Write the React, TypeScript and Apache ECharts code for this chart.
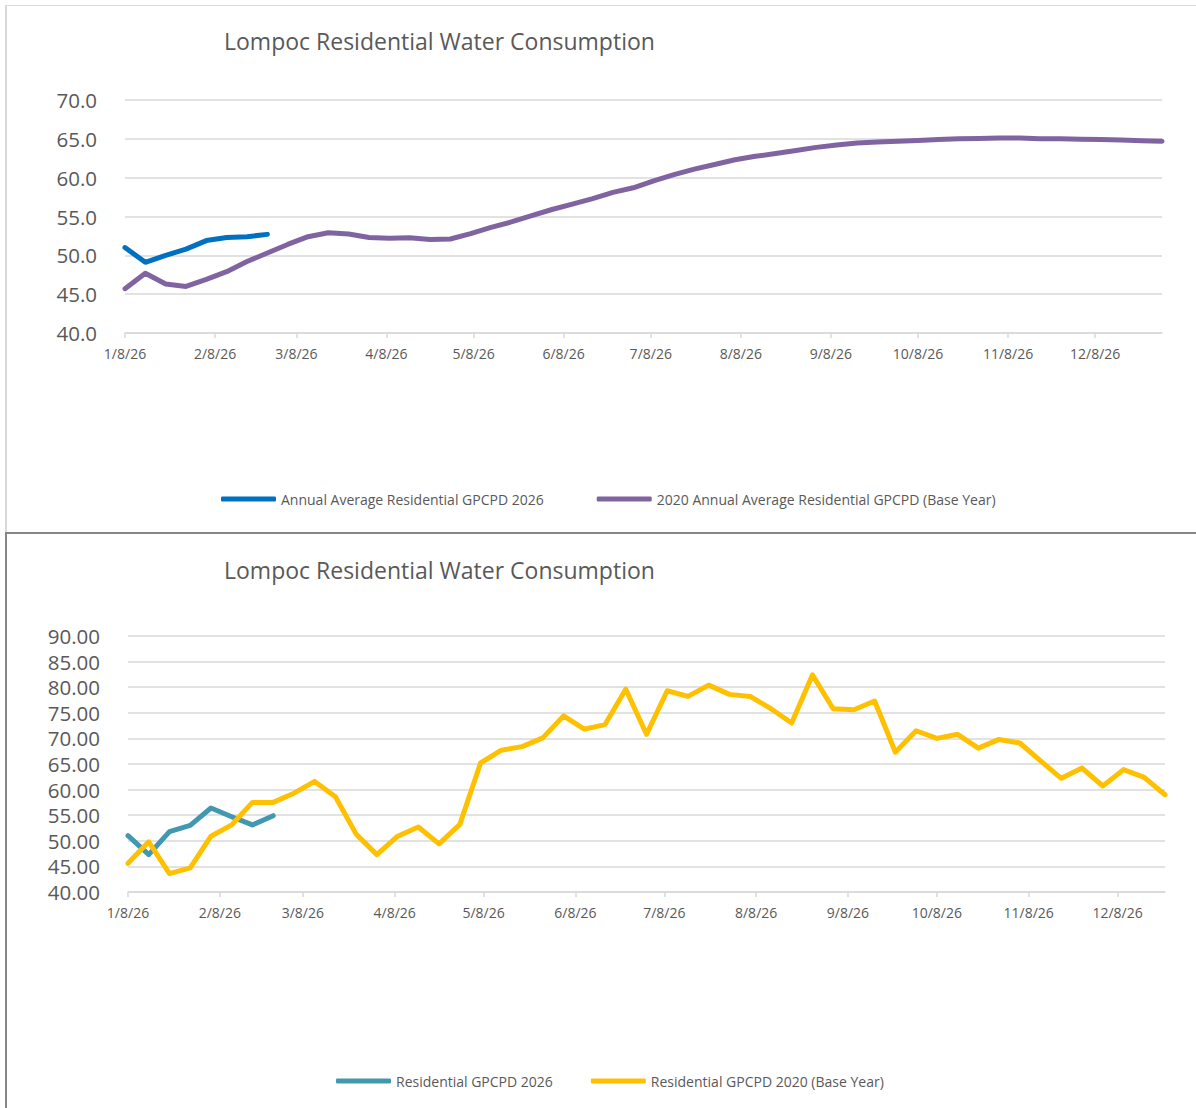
import React, { useEffect, useRef } from "react";
import * as echarts from "echarts";

// ---- Data ----
const weekDates: string[] = [
  "2026-01-08", "2026-01-15", "2026-01-22", "2026-01-29",
  "2026-02-05", "2026-02-12", "2026-02-19", "2026-02-26",
  "2026-03-05", "2026-03-12", "2026-03-19", "2026-03-26",
  "2026-04-02", "2026-04-09", "2026-04-16", "2026-04-23", "2026-04-30",
  "2026-05-07", "2026-05-14", "2026-05-21", "2026-05-28",
  "2026-06-04", "2026-06-11", "2026-06-18", "2026-06-25",
  "2026-07-02", "2026-07-09", "2026-07-16", "2026-07-23", "2026-07-30",
  "2026-08-06", "2026-08-13", "2026-08-20", "2026-08-27",
  "2026-09-03", "2026-09-10", "2026-09-17", "2026-09-24",
  "2026-10-01", "2026-10-08", "2026-10-15", "2026-10-22", "2026-10-29",
  "2026-11-05", "2026-11-12", "2026-11-19", "2026-11-26",
  "2026-12-03", "2026-12-10", "2026-12-17", "2026-12-24", "2026-12-31",
];

const tickDates: string[] = [
  "2026-01-08", "2026-02-08", "2026-03-08", "2026-04-08", "2026-05-08", "2026-06-08",
  "2026-07-08", "2026-08-08", "2026-09-08", "2026-10-08", "2026-11-08", "2026-12-08",
];

const chartTitle = "Lompoc Residential Water Consumption";

// Top chart (annual averages)
const avg2026Name = "Annual Average Residential GPCPD 2026";
const avg2026: number[] = [51.0, 49.1, 50.0, 50.8, 51.9, 52.3, 52.4, 52.7];

const avg2020Name = "2020 Annual Average Residential GPCPD (Base Year)";
const avg2020: number[] = [
  45.7, 47.7, 46.3, 46.0, 46.9, 47.9, 49.2, 50.3, 51.4, 52.4, 52.9, 52.75,
  52.3, 52.2, 52.25, 52.05, 52.1, 52.8, 53.6, 54.3, 55.1, 55.9, 56.6, 57.3,
  58.1, 58.7, 59.6, 60.4, 61.1, 61.7, 62.3, 62.75, 63.1, 63.5, 63.9, 64.2,
  64.45, 64.6, 64.7, 64.8, 64.9, 65.0, 65.05, 65.1, 65.1, 65.0, 65.0, 64.95,
  64.9, 64.85, 64.75, 64.7,
];
const topYTicks = { min: 40, max: 70, interval: 5 };

// Bottom chart (weekly)
const res2026Name = "Residential GPCPD 2026";
const res2026: number[] = [51.0, 47.3, 51.8, 53.0, 56.4, 54.7, 53.1, 54.9];

const res2020Name = "Residential GPCPD 2020 (Base Year)";
const res2020: number[] = [
  45.6, 49.8, 43.6, 44.7, 50.9, 53.1, 57.5, 57.5, 59.3, 61.6, 58.6, 51.3,
  47.3, 50.9, 52.7, 49.4, 53.2, 65.2, 67.7, 68.4, 70.1, 74.4, 71.8, 72.7,
  79.6, 70.8, 79.3, 78.2, 80.4, 78.6, 78.2, 75.8, 73.0, 82.4, 75.8, 75.6,
  77.3, 67.3, 71.5, 70.0, 70.8, 68.1, 69.8, 69.1, 65.6, 62.2, 64.2, 60.7,
  63.9, 62.4, 59.0,
];
const botYTicks = { min: 40, max: 90, interval: 5 };

// ---- Helpers ----
const FONT = "'Open Sans', sans-serif";
const LABEL = "#595959";
const GRID = "#d9d9d9";

function ts(s: string): number {
  const [y, m, d] = s.split("-").map(Number);
  return new Date(y, m - 1, d).getTime();
}
function fmtDate(v: number): string {
  const d = new Date(v);
  return `${d.getMonth() + 1}/${d.getDate()}/${String(d.getFullYear()).slice(2)}`;
}
function pairs(vals: number[]) {
  return vals.map((v, i) => [ts(weekDates[i]), v]);
}

function buildOption(cfg: {
  titleTop: number;
  grid: { left: number; top: number; width: number; height: number };
  yTicks: { min: number; max: number; interval: number };
  decimals: number;
  xMax: number;
  series: { name: string; data: number[]; color: string }[];
  legend: { left: number; top: number; gap: number };
}) {
  const tickVals = tickDates.map(ts);
  return {
    animation: false,
    backgroundColor: "transparent",
    title: {
      text: chartTitle,
      left: 219,
      top: cfg.titleTop,
      textStyle: { fontFamily: FONT, fontSize: 23, fontWeight: "normal", color: LABEL },
    },
    legend: {
      left: cfg.legend.left,
      top: cfg.legend.top,
      itemWidth: 55,
      itemHeight: 5,
      itemGap: cfg.legend.gap,
      icon: "roundRect",
      textStyle: { fontFamily: FONT, fontSize: 14, color: LABEL },
      data: cfg.series.map((s) => s.name),
    },
    grid: { ...cfg.grid, containLabel: false },
    xAxis: {
      type: "value",
      min: ts(weekDates[0]),
      max: cfg.xMax,
      axisLine: { show: true, onZero: false, lineStyle: { color: GRID, width: 1.5 } },
      axisTick: {
        show: true,
        length: 5,
        lineStyle: { color: GRID, width: 1.5 },
        customValues: tickVals,
      },
      axisLabel: {
        customValues: tickVals,
        formatter: (v: number) => fmtDate(v),
        fontFamily: FONT,
        fontSize: 14,
        color: LABEL,
        margin: 13,
      },
      splitLine: { show: false },
    },
    yAxis: {
      type: "value",
      min: cfg.yTicks.min,
      max: cfg.yTicks.max,
      interval: cfg.yTicks.interval,
      axisLine: { show: false },
      axisTick: { show: false },
      axisLabel: {
        formatter: (v: number) => v.toFixed(cfg.decimals),
        fontFamily: FONT,
        fontSize: 20.5,
        color: LABEL,
        margin: 28,
      },
      splitLine: { show: true, lineStyle: { color: GRID, width: 1.5 } },
    },
    series: cfg.series.map((s) => ({
      name: s.name,
      type: "line",
      data: pairs(s.data),
      showSymbol: false,
      symbol: "none",
      color: s.color,
      lineStyle: { color: s.color, width: 5, cap: "round", join: "round" },
    })),
  };
}

function Chart(props: { option: any; style: React.CSSProperties }) {
  const ref = useRef<HTMLDivElement>(null);
  useEffect(() => {
    if (!ref.current) return;
    const chart = echarts.init(ref.current, undefined, { renderer: "svg" });
    chart.setOption(props.option);
    return () => chart.dispose();
  }, []);
  return <div ref={ref} style={props.style} />;
}

export default function App() {
  const topOption = buildOption({
    titleTop: 24,
    grid: { left: 125, top: 100, width: 1037, height: 233 },
    yTicks: topYTicks,
    decimals: 1,
    xMax: ts(weekDates[avg2020.length - 1]),
    series: [
      { name: avg2026Name, data: avg2026, color: "#0070C0" },
      { name: avg2020Name, data: avg2020, color: "#8064A2" },
    ],
    legend: { left: 216, top: 487, gap: 53 },
  });
  const botOption = buildOption({
    titleTop: 20,
    grid: { left: 128, top: 103, width: 1037, height: 256 },
    yTicks: botYTicks,
    decimals: 2,
    xMax: ts(weekDates[res2020.length - 1]),
    series: [
      { name: res2026Name, data: res2026, color: "#4298B0" },
      { name: res2020Name, data: res2020, color: "#FFC000" },
    ],
    legend: { left: 331, top: 536, gap: 38 },
  });
  return (
    <div style={{ position: "fixed", left: 0, top: 0, width: 1196, height: 1108, background: "#fff", overflow: "hidden" }}>
      <div style={{ position: "absolute", left: 5, top: 5, width: 1200, height: 527, borderLeft: "2px solid #d9d9d9", borderTop: "1px solid #d9d9d9", boxSizing: "border-box" }} />
      <div style={{ position: "absolute", left: 5, top: 532, width: 1200, height: 600, borderLeft: "2px solid #868686", borderTop: "2px solid #868686", boxSizing: "border-box" }} />
      <Chart option={topOption} style={{ position: "absolute", left: 0, top: 0, width: 1196, height: 533 }} />
      <Chart option={botOption} style={{ position: "absolute", left: 0, top: 533, width: 1196, height: 575 }} />
    </div>
  );
}
